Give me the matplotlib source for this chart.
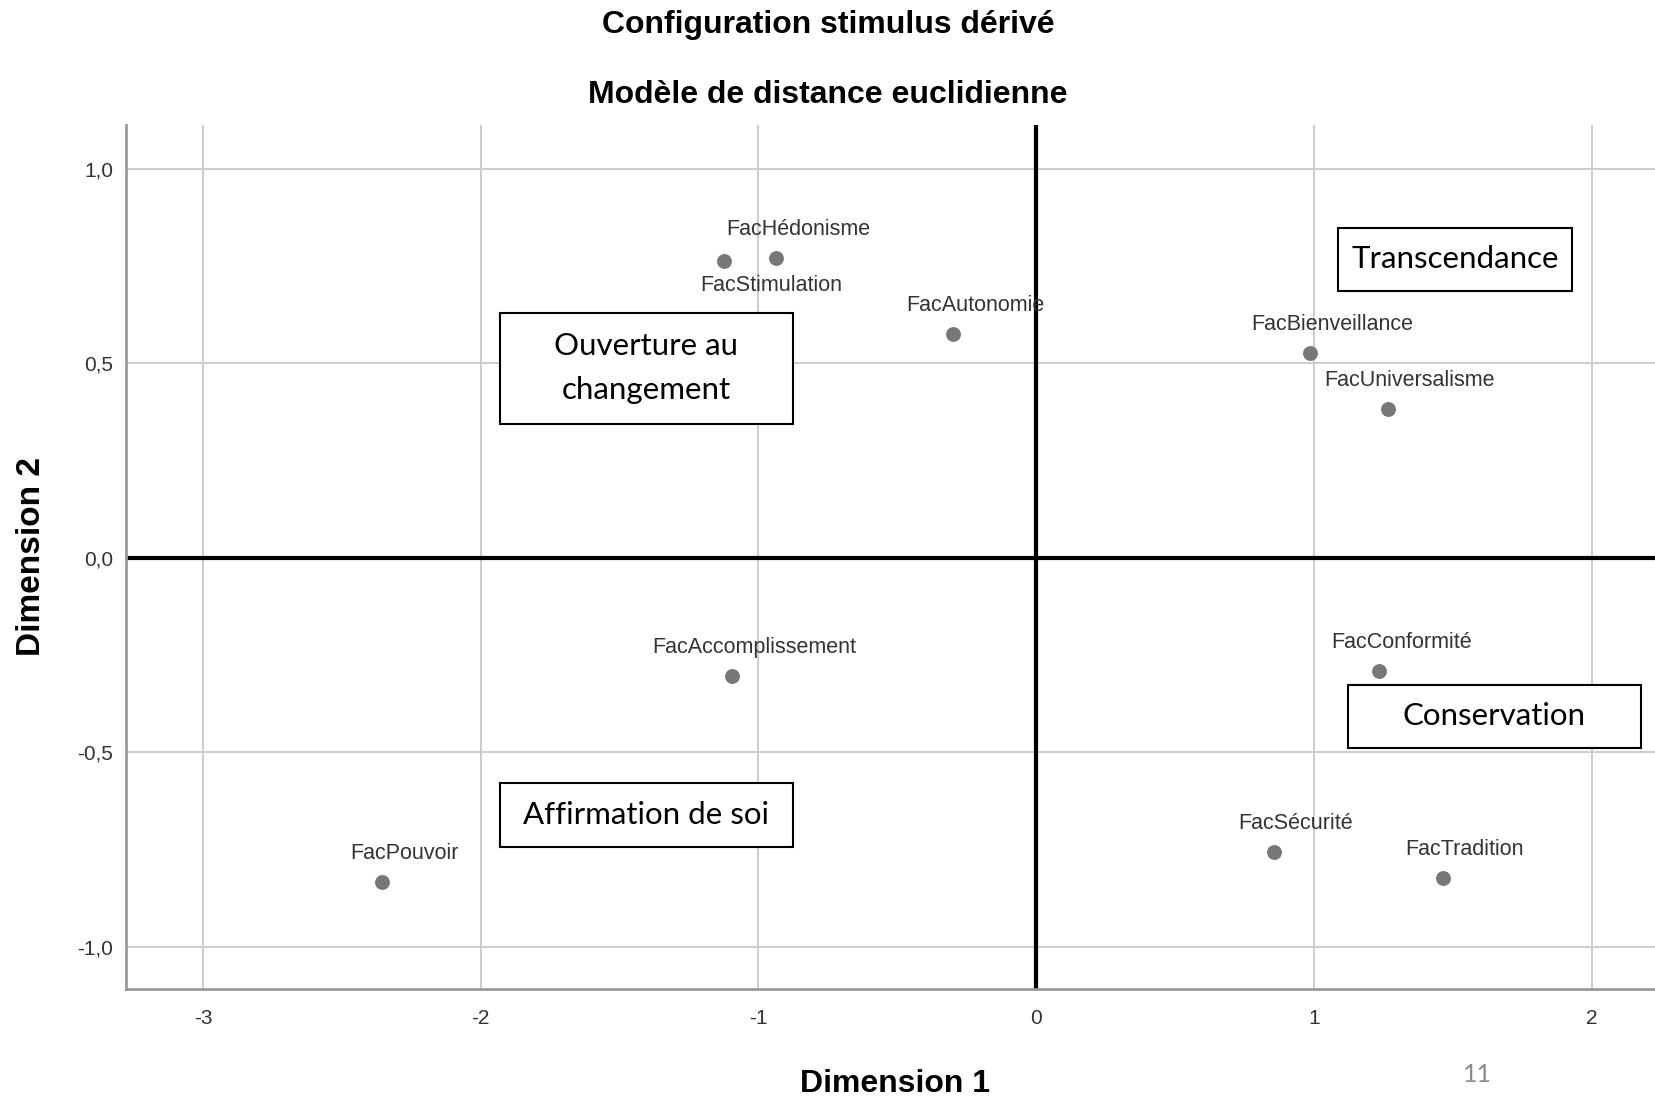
import matplotlib
matplotlib.use("Agg")
import matplotlib.pyplot as plt
from matplotlib.patches import Rectangle
from matplotlib.ticker import FuncFormatter

# stimulus coordinates
names = ["FacHédonisme", "FacStimulation", "FacAutonomie", "FacBienveillance",
         "FacUniversalisme", "FacAccomplissement", "FacConformité",
         "FacSécurité", "FacTradition", "FacPouvoir"]
dim1 = [-0.935, -1.125, -0.300, 0.985, 1.266, -1.095, 1.236, 0.856, 1.464, -2.354]
dim2 = [0.771, 0.763, 0.575, 0.526, 0.383, -0.304, -0.290, -0.757, -0.822, -0.833]

x_ticks = [-3, -2, -1, 0, 1, 2]
y_ticks = [-1.0, -0.5, 0.0, 0.5, 1.0]

# value groups drawn as boxes: label, (x0, x1, y0, y1)
groups = ["Ouverture au\nchangement", "Transcendance", "Conservation", "Affirmation de soi"]
group_boxes = [(-1.932, -0.875, 0.345, 0.630),
               (1.087, 1.928, 0.687, 0.849),
               (1.122, 2.179, -0.488, -0.326),
               (-1.932, -0.875, -0.744, -0.578)]

SANS = ["Liberation Sans", "DejaVu Sans"]
BOXFONT = ["Lato", "DejaVu Sans"]

fig = plt.figure(figsize=(16.56, 11.01), dpi=100)
ax = fig.add_axes([0.0759, 0.1014, 0.9241, 0.7854])

ax.set_xlim(-3.278, 2.232)
ax.set_ylim(-1.109, 1.114)

ax.set_xticks(x_ticks)
ax.set_yticks(y_ticks)
ax.xaxis.set_major_formatter(FuncFormatter(lambda v, p: f"{v:.0f}"))
ax.yaxis.set_major_formatter(FuncFormatter(lambda v, p: f"{v:.1f}".replace(".", ",")))
ax.tick_params(axis="x", length=0, pad=14, labelsize=15, labelcolor="#333333")
ax.tick_params(axis="y", length=0, pad=9, labelsize=15, labelcolor="#333333")
for lab in ax.get_xticklabels() + ax.get_yticklabels():
    lab.set_family(SANS)

ax.grid(True, color="#cccccc", linewidth=1.4)
ax.set_axisbelow(True)
for side in ["top", "right"]:
    ax.spines[side].set_visible(False)
for side in ["left", "bottom"]:
    ax.spines[side].set_color("#999999")
    ax.spines[side].set_linewidth(2)

ax.axhline(0, color="black", linewidth=3, zorder=2)
ax.axvline(0, color="black", linewidth=3, zorder=2)

ax.scatter(dim1, dim2, s=115, color="#777777", zorder=3, linewidths=0)
for name, x, y in zip(names, dim1, dim2):
    if name == "FacStimulation":
        off = (34, -17.5)
    else:
        off = (16, 20.5)
    ax.annotate(name, (x, y), xytext=off, textcoords="offset points",
                ha="center", va="center", fontsize=15.5, color="#333333",
                family=SANS, zorder=4)

for text, (x0, x1, y0, y1) in zip(groups, group_boxes):
    ax.add_patch(Rectangle((x0, y0), x1 - x0, y1 - y0, fill=True,
                           facecolor="white", edgecolor="black",
                           linewidth=1.5, zorder=5))
    ax.text((x0 + x1) / 2, (y0 + y1) / 2, text, ha="center", va="center",
            fontsize=22.5, family=BOXFONT, linespacing=1.7, zorder=6)

ax.set_xlabel("Dimension 1", fontsize=23, fontweight="bold", family=SANS, va="center")
ax.set_ylabel("Dimension 2", fontsize=24, fontweight="bold", family=SANS, va="center")
ax.xaxis.set_label_coords(0.503, -0.109)
ax.yaxis.set_label_coords(-0.0614, 0.5)

fig.text(0.5, 1 - 25 / 1101, "Configuration stimulus dérivé", ha="center",
         va="center", fontsize=23, fontweight="bold", family=SANS)
fig.text(0.5, 1 - 95 / 1101, "Modèle de distance euclidienne", ha="center",
         va="center", fontsize=23, fontweight="bold", family=SANS)
fig.text(1477 / 1656, 1 - 1074 / 1101, "11", ha="center", va="center",
         fontsize=18, color="#8c8c8c", family=BOXFONT)

fig.savefig("out.png", dpi=100)
